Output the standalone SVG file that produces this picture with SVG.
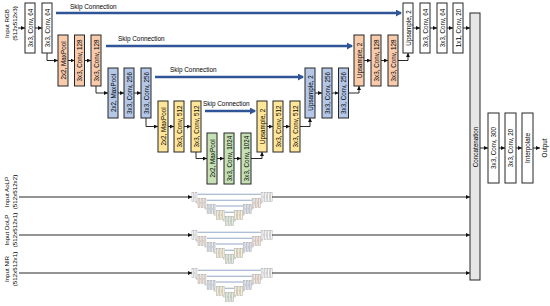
<svg xmlns="http://www.w3.org/2000/svg" xmlns:xlink="http://www.w3.org/1999/xlink" width="550" height="306" viewBox="0 0 550 306">
<style>
.box{stroke:#262626;stroke-width:1}
.w{fill:#ffffff}.o{fill:#F8CBAD}.b{fill:#B4C7E7}.y{fill:#FFE699}.g{fill:#C5E0B4}.c{fill:#E7E6E6}
.t{font-family:"Liberation Sans",Arial,sans-serif;font-size:6.3px;text-anchor:middle;dominant-baseline:central;fill:#000}
.in{font-family:"Liberation Sans",Arial,sans-serif;font-size:6.2px;text-anchor:middle;dominant-baseline:central;fill:#000}
.sk{font-family:"Liberation Sans",Arial,sans-serif;font-size:6.4px;fill:#000}
.ln{fill:none;stroke:#111;stroke-width:0.9;marker-end:url(#ah)}
.skip{fill:none;stroke:#2F5597;stroke-width:2.6;marker-end:url(#bh)}
.m .box{stroke:#555;stroke-width:3}
.m .ml{fill:none;stroke:#333;stroke-width:3}
.m .ms{fill:none;stroke:#2F5597;stroke-width:6}
</style>
<defs>
<marker id="ah" markerUnits="userSpaceOnUse" markerWidth="4" markerHeight="4" viewBox="0 0 4 4" refX="4" refY="2" orient="auto"><path d="M0,0 L4,2 L0,4 z" fill="#111"/></marker>
<marker id="bh" markerUnits="userSpaceOnUse" markerWidth="6" markerHeight="7" viewBox="0 0 6 7" refX="5" refY="3.5" orient="auto"><path d="M0,0 L6,3.5 L0,7 z" fill="#2F5597"/></marker>
<g id="mini" class="m">
<path class="ms" d="M56,13 H401 M106,46 H352 M155,77 H303 M205,111 H255"/>
<path class="ml" d="M35,28 H42 M47,53 V60.5 H58 M68,60.5 H74.5 M84.5,60.5 H91 M96,86 V93 H108 M118,93 H124 M134,93 H141 M146,118 V126.5 H158 M168,126.5 H174 M184,126.5 H191 M196,152 V158.5 H207 M217,158.5 H224 M234,158.5 H241 M251,158.5 H262 V152 M267,126.5 H273 M283,126.5 H290 M300,126.5 H310 V118 M315,93 H322 M332,93 H338.5 M348.5,93 H359 V86 M364,60.5 H371 M381,60.5 H388 M398,60.5 H408 V53 M413,28 H420 M430,28 H437 M447,28 H453"/>
<rect class="box w" x="25" y="3" width="10" height="50"/><rect class="box w" x="42" y="3" width="10" height="50"/>
<rect class="box o" x="58" y="35" width="10" height="51"/><rect class="box o" x="74.5" y="35" width="10" height="51"/><rect class="box o" x="91" y="35" width="10" height="51"/>
<rect class="box b" x="108" y="68" width="10" height="50"/><rect class="box b" x="124" y="68" width="10" height="50"/><rect class="box b" x="141" y="68" width="10" height="50"/>
<rect class="box y" x="158" y="101" width="10" height="51"/><rect class="box y" x="174" y="101" width="10" height="51"/><rect class="box y" x="191" y="101" width="10" height="51"/>
<rect class="box g" x="207" y="133" width="10" height="51"/><rect class="box g" x="224" y="133" width="10" height="51"/><rect class="box g" x="241" y="133" width="10" height="51"/>
<rect class="box y" x="257" y="101" width="10" height="51"/><rect class="box y" x="273" y="101" width="10" height="51"/><rect class="box y" x="290" y="101" width="10" height="51"/>
<rect class="box b" x="305" y="68" width="10" height="50"/><rect class="box b" x="322" y="68" width="10" height="50"/><rect class="box b" x="338.5" y="68" width="10" height="50"/>
<rect class="box o" x="354" y="35" width="10" height="51"/><rect class="box o" x="371" y="35" width="10" height="51"/><rect class="box o" x="388" y="35" width="10" height="51"/>
<rect class="box w" x="403" y="3" width="10" height="50"/><rect class="box w" x="420" y="3" width="10" height="50"/><rect class="box w" x="437" y="3" width="10" height="50"/><rect class="box w" x="453" y="3" width="10" height="50"/>
</g>
</defs>
<rect width="550" height="306" fill="#ffffff"/>

<g id="inputs">
<text class="in" transform="translate(10,23.5) rotate(-90)"><tspan x="0" y="-4">Input RGB</tspan><tspan x="0" y="4">(512x512x3)</tspan></text>
<text class="in" transform="translate(10,192) rotate(-90)"><tspan x="0" y="-4">Input AoLP</tspan><tspan x="0" y="4">(512x512x2)</tspan></text>
<text class="in" transform="translate(10,230) rotate(-90)"><tspan x="0" y="-4">Input DoLP</tspan><tspan x="0" y="4">(512x512x1)</tspan></text>
<text class="in" transform="translate(10,269) rotate(-90)"><tspan x="0" y="-4">Input NIR</tspan><tspan x="0" y="4">(512x512x1)</tspan></text>
</g>

<g id="mini-nets" opacity="0.5">
<use xlink:href="#mini" href="#mini" transform="translate(187.4,191.9) scale(0.183)"/>
<use xlink:href="#mini" href="#mini" transform="translate(187.4,229.9) scale(0.183)"/>
<use xlink:href="#mini" href="#mini" transform="translate(187.4,267.9) scale(0.183)"/>
</g>

<g id="connectors">
<path class="skip" d="M56,13 H401"/>
<path class="skip" d="M106,46 H352"/>
<path class="skip" d="M155,77 H303"/>
<path class="skip" d="M205,111 H255"/>
<text class="sk" x="70" y="8.5">Skip Connection</text>
<text class="sk" x="118" y="40.5">Skip Connection</text>
<text class="sk" x="170" y="71.5">Skip Connection</text>
<text class="sk" x="203" y="105.5">Skip Connection</text>
<path class="ln" d="M18,28 H25"/>
<path class="ln" d="M35,28 H42"/>
<path class="ln" d="M47,53 V60.5 H58"/>
<path class="ln" d="M68,60.5 H74.5"/>
<path class="ln" d="M84.5,60.5 H91"/>
<path class="ln" d="M96,86 V93 H108"/>
<path class="ln" d="M118,93 H124"/>
<path class="ln" d="M134,93 H141"/>
<path class="ln" d="M146,118 V126.5 H158"/>
<path class="ln" d="M168,126.5 H174"/>
<path class="ln" d="M184,126.5 H191"/>
<path class="ln" d="M196,152 V158.5 H207"/>
<path class="ln" d="M217,158.5 H224"/>
<path class="ln" d="M234,158.5 H241"/>
<path class="ln" d="M251,158.5 H262 V152"/>
<path class="ln" d="M267,126.5 H273"/>
<path class="ln" d="M283,126.5 H290"/>
<path class="ln" d="M300,126.5 H310 V118"/>
<path class="ln" d="M315,93 H322"/>
<path class="ln" d="M332,93 H338.5"/>
<path class="ln" d="M348.5,93 H359 V86"/>
<path class="ln" d="M364,60.5 H371"/>
<path class="ln" d="M381,60.5 H388"/>
<path class="ln" d="M398,60.5 H408 V53"/>
<path class="ln" d="M413,28 H420"/>
<path class="ln" d="M430,28 H437"/>
<path class="ln" d="M447,28 H453"/>
<path class="ln" d="M463,28 H470"/>
<path class="ln" d="M480,148 H488"/>
<path class="ln" d="M499,148 H505"/>
<path class="ln" d="M516,148 H522"/>
<path class="ln" d="M533,148 H540"/>
<path class="ln" d="M19,197 H192"/>
<path class="ln" d="M272,197 H470"/>
<path class="ln" d="M19,235 H192"/>
<path class="ln" d="M272,235 H470"/>
<path class="ln" d="M19,273 H192"/>
<path class="ln" d="M272,273 H470"/>
</g>

<g id="enc1-conv-a"><rect class="box w" x="25" y="3" width="10" height="50"/><text class="t" transform="translate(30,28) rotate(-90)">3x3, Conv, 64</text></g>
<g id="enc1-conv-b"><rect class="box w" x="42" y="3" width="10" height="50"/><text class="t" transform="translate(47,28) rotate(-90)">3x3, Conv, 64</text></g>
<g id="enc2-pool"><rect class="box o" x="58" y="35" width="10" height="51"/><text class="t" transform="translate(63,60.5) rotate(-90)">2x2, MaxPool</text></g>
<g id="enc2-conv-a"><rect class="box o" x="74.5" y="35" width="10" height="51"/><text class="t" transform="translate(79.5,60.5) rotate(-90)">3x3, Conv, 128</text></g>
<g id="enc2-conv-b"><rect class="box o" x="91" y="35" width="10" height="51"/><text class="t" transform="translate(96,60.5) rotate(-90)">3x3, Conv, 128</text></g>
<g id="enc3-pool"><rect class="box b" x="108" y="68" width="10" height="50"/><text class="t" transform="translate(113,93) rotate(-90)">2x2, MaxPool</text></g>
<g id="enc3-conv-a"><rect class="box b" x="124" y="68" width="10" height="50"/><text class="t" transform="translate(129,93) rotate(-90)">3x3, Conv, 256</text></g>
<g id="enc3-conv-b"><rect class="box b" x="141" y="68" width="10" height="50"/><text class="t" transform="translate(146,93) rotate(-90)">3x3, Conv, 256</text></g>
<g id="enc4-pool"><rect class="box y" x="158" y="101" width="10" height="51"/><text class="t" transform="translate(163,126.5) rotate(-90)">2x2, MaxPool</text></g>
<g id="enc4-conv-a"><rect class="box y" x="174" y="101" width="10" height="51"/><text class="t" transform="translate(179,126.5) rotate(-90)">3x3, Conv, 512</text></g>
<g id="enc4-conv-b"><rect class="box y" x="191" y="101" width="10" height="51"/><text class="t" transform="translate(196,126.5) rotate(-90)">3x3, Conv, 512</text></g>
<g id="bott-pool"><rect class="box g" x="207" y="133" width="10" height="51"/><text class="t" transform="translate(212,158.5) rotate(-90)">2x2, MaxPool</text></g>
<g id="bott-conv-a"><rect class="box g" x="224" y="133" width="10" height="51"/><text class="t" transform="translate(229,158.5) rotate(-90)">3x3, Conv, 1024</text></g>
<g id="bott-conv-b"><rect class="box g" x="241" y="133" width="10" height="51"/><text class="t" transform="translate(246,158.5) rotate(-90)">3x3, Conv, 1024</text></g>
<g id="dec4-up"><rect class="box y" x="257" y="101" width="10" height="51"/><text class="t" transform="translate(262,126.5) rotate(-90)">Upsample, 2</text></g>
<g id="dec4-conv-a"><rect class="box y" x="273" y="101" width="10" height="51"/><text class="t" transform="translate(278,126.5) rotate(-90)">3x3, Conv, 512</text></g>
<g id="dec4-conv-b"><rect class="box y" x="290" y="101" width="10" height="51"/><text class="t" transform="translate(295,126.5) rotate(-90)">3x3, Conv, 512</text></g>
<g id="dec3-up"><rect class="box b" x="305" y="68" width="10" height="50"/><text class="t" transform="translate(310,93) rotate(-90)">Upsample, 2</text></g>
<g id="dec3-conv-a"><rect class="box b" x="322" y="68" width="10" height="50"/><text class="t" transform="translate(327,93) rotate(-90)">3x3, Conv, 256</text></g>
<g id="dec3-conv-b"><rect class="box b" x="338.5" y="68" width="10" height="50"/><text class="t" transform="translate(343.5,93) rotate(-90)">3x3, Conv, 256</text></g>
<g id="dec2-up"><rect class="box o" x="354" y="35" width="10" height="51"/><text class="t" transform="translate(359,60.5) rotate(-90)">Upsample, 2</text></g>
<g id="dec2-conv-a"><rect class="box o" x="371" y="35" width="10" height="51"/><text class="t" transform="translate(376,60.5) rotate(-90)">3x3, Conv, 128</text></g>
<g id="dec2-conv-b"><rect class="box o" x="388" y="35" width="10" height="51"/><text class="t" transform="translate(393,60.5) rotate(-90)">3x3, Conv, 128</text></g>
<g id="dec1-up"><rect class="box w" x="403" y="3" width="10" height="50"/><text class="t" transform="translate(408,28) rotate(-90)">Upsample, 2</text></g>
<g id="dec1-conv-a"><rect class="box w" x="420" y="3" width="10" height="50"/><text class="t" transform="translate(425,28) rotate(-90)">3x3, Conv, 64</text></g>
<g id="dec1-conv-b"><rect class="box w" x="437" y="3" width="10" height="50"/><text class="t" transform="translate(442,28) rotate(-90)">3x3, Conv, 64</text></g>
<g id="dec1-conv-out"><rect class="box w" x="453" y="3" width="10" height="50"/><text class="t" transform="translate(458,28) rotate(-90)">1x1, Conv, 20</text></g>
<g id="concat"><rect class="box c" x="470" y="13" width="10" height="267"/><text class="t" transform="translate(475,147) rotate(-90)">Concatenation</text></g>
<g id="head-conv300"><rect class="box w" x="488" y="113" width="11" height="70"/><text class="t" transform="translate(493.5,148) rotate(-90)">3x3, Conv, 300</text></g>
<g id="head-conv20"><rect class="box w" x="505" y="113" width="11" height="70"/><text class="t" transform="translate(510.5,148) rotate(-90)">3x3, Conv, 20</text></g>
<g id="head-interp"><rect class="box w" x="522" y="113" width="11" height="70"/><text class="t" transform="translate(527.5,148) rotate(-90)">Interpolate</text></g>
<g id="output"><text class="t" transform="translate(544.5,148) rotate(-90)">Output</text></g>
</svg>
